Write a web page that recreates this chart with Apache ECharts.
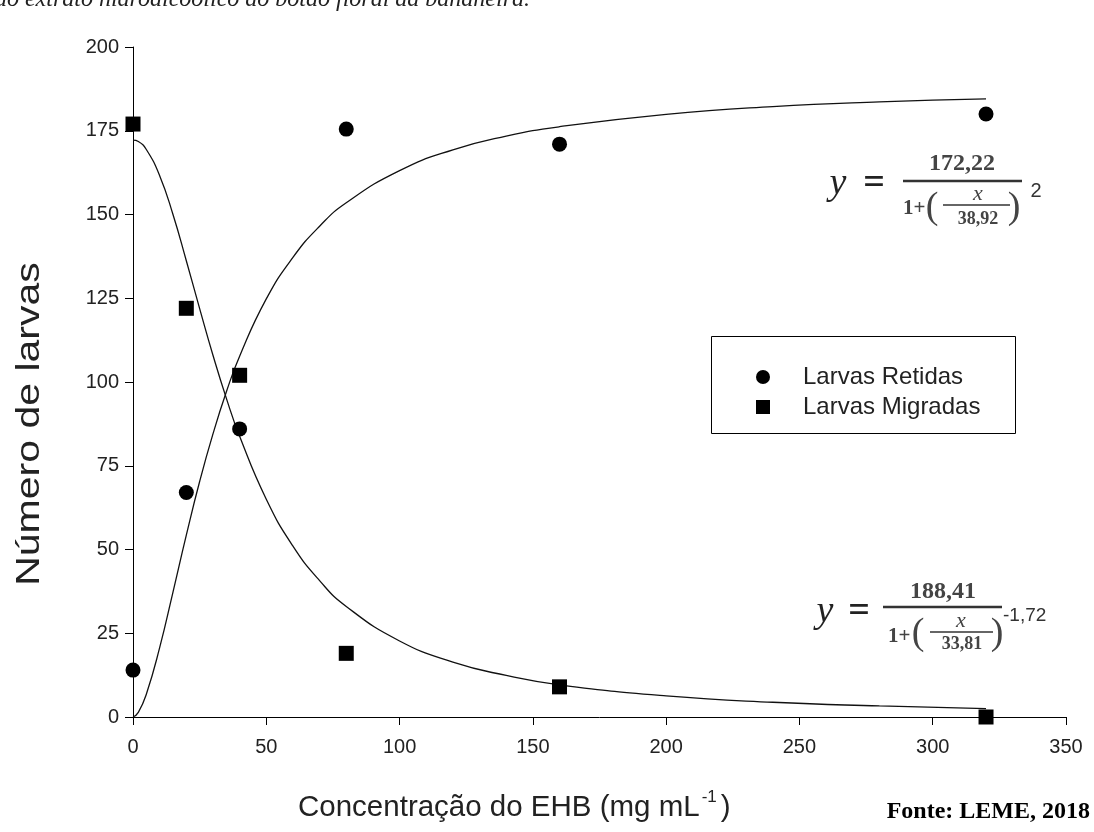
<!DOCTYPE html>
<html>
<head>
<meta charset="utf-8">
<script src="https://cdn.jsdelivr.net/npm/echarts@6/dist/echarts.min.js"></script>
<style>
html,body{margin:0;padding:0;background:#fff;}
#main{width:1094px;height:832px;}
</style>
</head>
<body>
<div id="main"></div>
<script>
// Concentrations (x) and observed counts
const concentrations = [0, 20, 40, 80, 160, 320];
const larvasRetidas = [14, 67, 86, 175.5, 171, 180];
const larvasMigradas = [177, 122, 102, 19, 9, 0];

// Fitted curves
const curveX = [0, 2, 5, 10, 15, 20, 25, 30, 35, 40, 50, 60, 70, 80, 100, 120, 140, 160, 200, 240, 280, 320];
const curveRetidas = [0, 1.4, 6.8, 20.7, 37.3, 54.3, 70.3, 84.5, 97.0, 107.7, 124.8, 137.2, 146.5, 153.5, 163.1, 169.3, 173.4, 176.2, 179.9, 182.2, 183.6, 184.5];
const curveMigradas = [172.2, 171.8, 169.4, 161.6, 150.0, 136.2, 121.9, 108.0, 95.2, 83.8, 65.0, 51.0, 40.7, 33.0, 22.7, 16.4, 12.4, 9.6, 6.3, 4.4, 3.3, 2.5];

const xTicks = [0, 50, 100, 150, 200, 250, 300, 350];
const yTicks = [0, 25, 50, 75, 100, 125, 150, 175, 200];

const seriesNames = ['Larvas Retidas', 'Larvas Migradas'];

const sans = 'Liberation Sans, Arial, sans-serif';
const serif = 'Liberation Serif, Times New Roman, serif';

function zip(xs, ys) { return xs.map((x, i) => [x, ys[i]]); }

function txt(x, y, text, opts) {
  return {
    type: 'text', x: x, y: y, silent: true,
    style: Object.assign({
      text: text, fill: '#333', font: '24px ' + serif,
      textAlign: 'center', textVerticalAlign: 'middle'
    }, opts || {})
  };
}
function ln(x1, y1, x2, y2, w) {
  return { type: 'line', silent: true, shape: { x1: x1, y1: y1, x2: x2, y2: y2 }, style: { stroke: '#333', lineWidth: w } };
}

const chart = echarts.init(document.getElementById('main'));
const option = {
  backgroundColor: '#fff',
  animation: false,
  grid: { left: 133, right: 28, top: 47, bottom: 115, containLabel: false },
  xAxis: {
    type: 'value', min: xTicks[0], max: xTicks[xTicks.length - 1], interval: 50,
    axisLine: { lineStyle: { color: '#000', width: 1 } },
    axisTick: { show: true, length: 8, lineStyle: { color: '#000' } },
    axisLabel: { color: '#222', fontSize: 20, fontFamily: sans, margin: 20 },
    splitLine: { show: false }
  },
  yAxis: {
    type: 'value', min: yTicks[0], max: yTicks[yTicks.length - 1], interval: 25,
    axisLine: { show: true, lineStyle: { color: '#000', width: 1 } },
    axisTick: { show: true, length: 8, lineStyle: { color: '#000' } },
    axisLabel: { color: '#222', fontSize: 20, fontFamily: sans, margin: 14 },
    splitLine: { show: false }
  },
  legend: {
    data: seriesNames,
    orient: 'vertical',
    left: 751, top: 360,
    itemWidth: 14, itemHeight: 14, itemGap: 6,
    textStyle: { color: '#222', fontSize: 24, fontFamily: sans, lineHeight: 24, padding: [0, 0, 0, 28] },
    itemStyle: { opacity: 1 },
    selectedMode: false
  },
  series: [
    {
      name: seriesNames[0], type: 'scatter', symbol: 'circle', symbolSize: 15, clip: false,
      itemStyle: { color: '#000', opacity: 1 }, data: zip(concentrations, larvasRetidas), z: 5
    },
    {
      name: seriesNames[1], type: 'scatter', symbol: 'rect', symbolSize: 15, clip: false,
      itemStyle: { color: '#000', opacity: 1 }, data: zip(concentrations, larvasMigradas), z: 5
    },
    {
      name: 'ajuste retidas', type: 'line', showSymbol: false, symbol: 'none', smooth: 0.5,
      lineStyle: { color: '#111', width: 1.3 }, data: zip(curveX, curveRetidas), z: 3
    },
    {
      name: 'ajuste migradas', type: 'line', showSymbol: false, symbol: 'none', smooth: 0.5,
      lineStyle: { color: '#111', width: 1.3 }, data: zip(curveX, curveMigradas), z: 3
    }
  ],
  graphic: [
    // clipped caption at the top
    txt(530, 12, 'Figura. Efeito do extrato hidroalcoólico do botão floral da bananeira.', { textAlign: 'right', textVerticalAlign: 'bottom', font: 'italic 24px ' + serif, fill: '#222' }),
    // legend frame
    { type: 'rect', silent: true, shape: { x: 711.5, y: 336.5, width: 304, height: 97 }, style: { fill: 'none', stroke: '#000', lineWidth: 1 } },
    // y-axis title
    {
      type: 'text', x: 30, y: 424, rotation: Math.PI / 2, scaleY: 0.8, silent: true,
      style: { text: 'Número de larvas', font: '41px ' + sans, fill: '#222', textAlign: 'center', textVerticalAlign: 'middle' }
    },
    // x-axis title with superscript
    {
      type: 'text', x: 298, y: 808, silent: true,
      style: {
        text: '{a|Concentração do EHB (mg mL}{s|-1}{a|)}',
        textAlign: 'left', textVerticalAlign: 'middle',
        rich: {
          a: { fontSize: 29.5, fontFamily: sans, fill: '#222', color: '#222' },
          s: { fontSize: 17, fontFamily: sans, fill: '#222', color: '#222', padding: [0, 4, 22, 2] }
        }
      }
    },
    // source
    txt(1090, 812, 'Fonte: LEME, 2018', { textAlign: 'right', font: 'bold 24px ' + serif, fill: '#000' }),

    // upper equation
    txt(838, 184, 'y', { font: 'italic 38px ' + serif, fill: '#222' }),
    txt(874, 184, '=', { font: 'bold 38px ' + serif, fill: '#222' }),
    txt(962, 164, '172,22', { font: 'bold 24px ' + serif, fill: '#444' }),
    ln(903, 181, 1022, 181, 2.5),
    txt(903, 209, '1+', { textAlign: 'left', font: 'bold 21px ' + serif, fill: '#444' }),
    txt(932, 208, '(', { font: '38px ' + serif, fill: '#444' }),
    txt(978, 194, 'x', { font: 'italic 22px ' + serif, fill: '#444' }),
    ln(943, 205, 1010, 205, 1.5),
    txt(978, 219, '38,92', { font: 'bold 18px ' + serif, fill: '#444' }),
    txt(1014, 208, ')', { font: '38px ' + serif, fill: '#444' }),
    txt(1036, 191, '2', { font: '20px ' + sans, fill: '#333' }),

    // lower equation
    txt(825, 612, 'y', { font: 'italic 38px ' + serif, fill: '#222' }),
    txt(859, 612, '=', { font: 'bold 38px ' + serif, fill: '#222' }),
    txt(943, 592, '188,41', { font: 'bold 24px ' + serif, fill: '#444' }),
    ln(883, 607, 1002, 607, 2.5),
    txt(888, 637, '1+', { textAlign: 'left', font: 'bold 21px ' + serif, fill: '#444' }),
    txt(918, 634, '(', { font: '38px ' + serif, fill: '#444' }),
    txt(961, 621, 'x', { font: 'italic 22px ' + serif, fill: '#444' }),
    ln(930, 632, 993, 632, 1.5),
    txt(962, 644, '33,81', { font: 'bold 18px ' + serif, fill: '#444' }),
    txt(997, 634, ')', { font: '38px ' + serif, fill: '#444' }),
    txt(1003, 616, '-1,72', { textAlign: 'left', font: '19px ' + sans, fill: '#333' })
  ]
};
chart.setOption(option);
</script>
</body>
</html>
